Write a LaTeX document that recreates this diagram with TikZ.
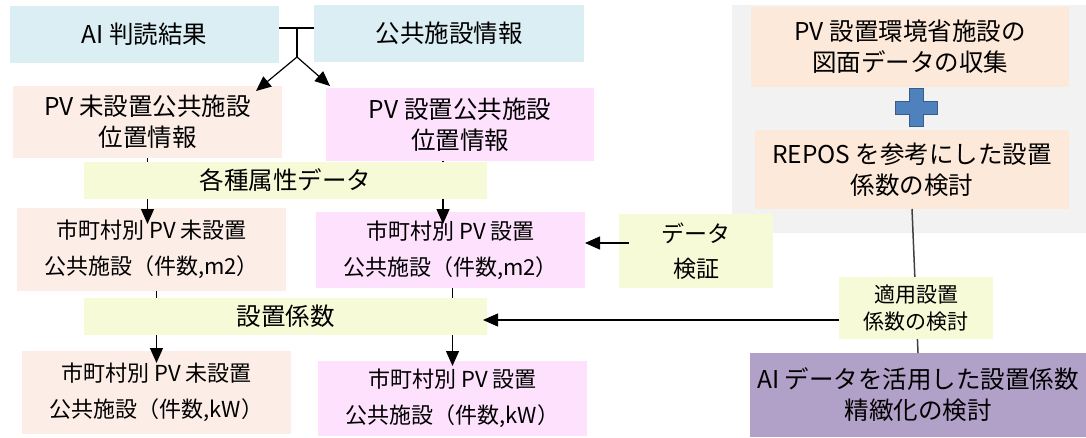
\documentclass[tikz,border=0pt]{standalone}
\usepackage{fontspec}
\setmainfont{Noto Sans CJK JP}
\usetikzlibrary{arrows.meta,calc}
\definecolor{cblue}{HTML}{DAEEF3}
\definecolor{cpeachL}{HTML}{FCEEE6}
\definecolor{cpeachR}{HTML}{FDE9D9}
\definecolor{cpink}{HTML}{FEE1FD}
\definecolor{cyel}{HTML}{F7FAD7}
\definecolor{cgray}{HTML}{F2F2F2}
\definecolor{cpurp}{HTML}{B1A0C7}
\definecolor{cplus}{HTML}{4F81BD}
\definecolor{cplusb}{HTML}{385D8A}
\definecolor{cline}{HTML}{404040}
\begin{document}
\begin{tikzpicture}[x=1pt,y=-1pt,
  box/.style={rectangle, inner sep=0pt, outer sep=0pt, align=center, text=black},
  big/.style={font=\fontsize{24.5}{31}\selectfont},
  small/.style={font=\fontsize{22}{36}\selectfont},
  mid/.style={font=\fontsize{21}{27}\selectfont},
  arr/.style={-{Triangle[length=15pt,width=13pt]}, line width=1.2pt, black},
  ln/.style={line width=1.2pt, black},
  gln/.style={line width=1.5pt, cline}]
\useasboundingbox (0,0) rectangle (1086,437);
% right grey panel
\node[box,fill=cgray,minimum width=354pt,minimum height=228pt] (panel) at (909,119) {};
% boxes
\node[box,big,fill=cblue,minimum width=269pt,minimum height=57pt] (ai) at (144.5,34.5) {AI 判読結果};
\node[box,big,fill=cblue,minimum width=270pt,minimum height=57pt] (kk) at (449,33.5) {公共施設情報};
\node[box,big,fill=cpeachL,minimum width=269pt,minimum height=72pt] (pvn) at (147.5,122) {PV 未設置公共施設\\位置情報};
\node[box,big,fill=cpink,minimum width=268pt,minimum height=73pt] (pvs) at (460,124.5) {PV 設置公共施設\\位置情報};
\node[box,small,fill=cpeachL,minimum width=269pt,minimum height=83pt] (m2n) at (151.5,249.5) {市町村別 PV 未設置\\公共施設（件数,m2）};
\node[box,small,fill=cpink,minimum width=269pt,minimum height=76pt] (m2s) at (450.5,250) {市町村別 PV 設置\\公共施設（件数,m2）};
\node[box,small,fill=cpeachL,minimum width=269pt,minimum height=83pt] (kwn) at (156.5,392.5) {市町村別 PV 未設置\\公共施設（件数,kW）};
\node[box,small,fill=cpink,minimum width=269pt,minimum height=75pt] (kws) at (452.5,398.5) {市町村別 PV 設置\\公共施設（件数,kW）};
\node[box,font=\fontsize{23}{35}\selectfont,fill=cyel,minimum width=154pt,minimum height=74pt] (dv) at (696,251) {データ\\検証};
\node[box,big,fill=cpeachR,minimum width=318pt,minimum height=80pt] (p1) at (910,47) {PV 設置環境省施設の\\図面データの収集};
\node[box,big,fill=cpeachR,minimum width=314pt,minimum height=79pt] (p2) at (912,169.5) {REPOS を参考にした設置\\係数の検討};
\node[box,big,fill=cpurp,minimum width=336pt,minimum height=84pt] (pu) at (918,395) {AI データを活用した設置係数\\精緻化の検討};
% plus sign
\filldraw[fill=cplus,draw=cplusb,line width=1pt] (909,88) -- (923,88) -- (923,101) -- (937,101) -- (937,114) -- (923,114) -- (923,126) -- (909,126) -- (909,114) -- (895,114) -- (895,101) -- (909,101) -- cycle;
% top junction
\coordinate (h1) at (279,28);
\coordinate (h2) at (314,28);
\coordinate (jt) at (297,28);
\coordinate (jb) at (297,57);
\coordinate (t1) at (256,91);
\coordinate (t2) at (330,86);
\draw[ln] (h1) -- (h2);
\draw[ln] (jt) -- (jb);
\draw[arr] (jb) -- (t1);
\draw[arr] (jb) -- (t2);
% vertical arrows
\draw[arr] (pvn.south) -- ($(pvn.south |- m2n.north)+(0,16)$);
\draw[arr] ($(pvs.south)+(-17,0)$) -- ($(pvs.south |- m2s.north)+(-17,12)$);
\draw[arr] (kwn.north |- m2n.south) -- ($(kwn.north)+(0,12)$);
\draw[arr] (kws.north |- m2s.south) -- ($(kws.north)+(0,5)$);
% bars on top
\node[box,big,fill=cyel,minimum width=403pt,minimum height=37pt] (attr) at (285.5,180.5) {各種属性データ};
\node[box,big,fill=cyel,minimum width=403pt,minimum height=37pt] (coef) at (285.5,316.5) {設置係数};
% right vertical line
\draw[gln] (p2.south) -- (pu.north);
\node[box,mid,fill=cyel,minimum width=154pt,minimum height=62pt] (ap) at (916,308) {適用設置\\係数の検討};
% horizontal arrows
\coordinate (aps) at ($(ap.west)+(0,12)$);
\coordinate (ce) at ($(coef.east)+(-4,0)$);
\draw[arr] (aps) -- (ce |- aps);
\coordinate (dvs) at ($(dv.west)+(10,-8)$);
\draw[arr] (dvs) -- (m2s.east |- dvs);
\end{tikzpicture}
\end{document}
